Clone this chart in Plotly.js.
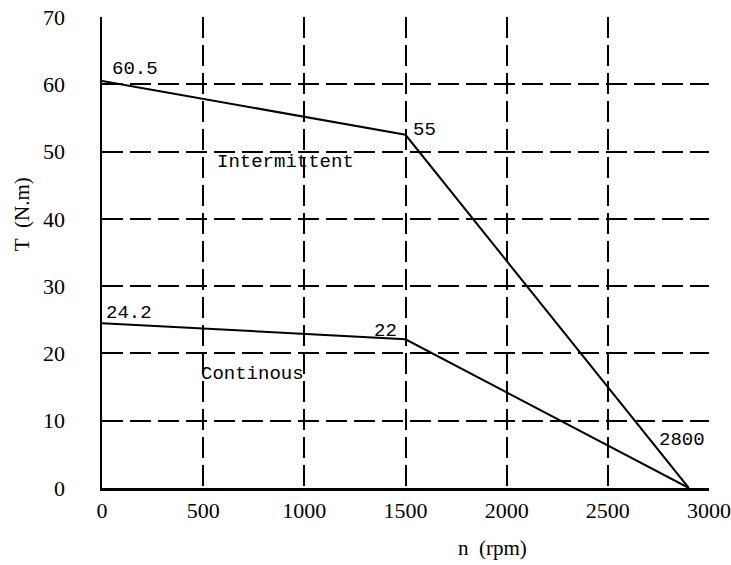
<!DOCTYPE html>
<html>
<head>
<meta charset="utf-8">
<script src="https://cdn.plot.ly/plotly-3.0.1.min.js"></script>
<style>html,body{margin:0;padding:0;background:#fff;}#chart{width:731px;height:565px;}</style>
</head>
<body>
<div id="chart"></div>
<script>
// Data
const speedRpm = [0, 1500, 2900];
const intermittentTorque = [60.5, 52.5, 0];
const continuousTorque = [24.5, 22.1, 0];
const xTicks = [0, 500, 1000, 1500, 2000, 2500, 3000];
const yTicks = [0, 10, 20, 30, 40, 50, 60, 70];
// Labels placed in data coordinates
const labelTexts = ["60.5", "55", "Intermittent", "24.2", "22", "Continous", "2800"];
const labelX = [44, 1532, 563, 15, 1463, 484, 2986];
const labelY = [62.3, 53.2, 48.4, 26.0, 23.3, 16.9, 7.1];
const labelAnchor = ["left", "left", "left", "left", "right", "left", "right"];
const xTitleText = "n\u00a0\u00a0(rpm)";
const yTitleText = "T\u00a0\u00a0(N.m)";

const serif = "Liberation Serif, DejaVu Serif, serif";
const mono = "Liberation Mono, DejaVu Sans Mono, monospace";

const lineStyle = {color: "#000", width: 2};
const traces = [
  {x: speedRpm, y: intermittentTorque, mode: "lines", line: lineStyle, showlegend: false, hoverinfo: "skip"},
  {x: speedRpm, y: continuousTorque, mode: "lines", line: lineStyle, showlegend: false, hoverinfo: "skip"}
];

const annotations = labelTexts.map((t, i) => ({
  text: t, x: labelX[i], y: labelY[i], xref: "x", yref: "y",
  xanchor: labelAnchor[i], yanchor: "middle", showarrow: false,
  font: {family: mono, size: 19, color: "#000"}, borderpad: 0
}));
annotations.push({
  text: xTitleText, xref: "paper", yref: "paper", x: 0.644, y: -0.127,
  xanchor: "center", yanchor: "middle", showarrow: false,
  font: {family: serif, size: 21, color: "#000"}
});
annotations.push({
  text: yTitleText, xref: "paper", yref: "paper", x: -0.132, y: 0.581,
  xanchor: "center", yanchor: "middle", showarrow: false, textangle: -90,
  font: {family: serif, size: 21, color: "#000"}
});

const gridDash = "21px,7px";
const layout = {
  width: 731, height: 565,
  margin: {l: 102, r: 22, t: 17, b: 77},
  paper_bgcolor: "#fff", plot_bgcolor: "#fff",
  font: {family: serif, color: "#000"},
  xaxis: {
    range: [0, 3000], tickvals: xTicks, ticktext: xTicks.map(String),
    showgrid: true, gridcolor: "#000", gridwidth: 2, griddash: gridDash,
    showline: true, linecolor: "#000", linewidth: 2.5, zeroline: false,
    ticks: "outside", ticklen: 0, ticklabelstandoff: 1,
    tickfont: {family: serif, size: 22, color: "#000"},
    fixedrange: true
  },
  yaxis: {
    range: [0, 70], tickvals: yTicks, ticktext: yTicks.map(String),
    showgrid: true, gridcolor: "#000", gridwidth: 2, griddash: gridDash,
    showline: true, linecolor: "#000", linewidth: 2.5, zeroline: false,
    ticks: "outside", ticklen: 0, ticklabelstandoff: 30,
    tickfont: {family: serif, size: 22, color: "#000"},
    fixedrange: true
  },
  annotations: annotations
};

Plotly.newPlot("chart", traces, layout, {displayModeBar: false, staticPlot: true});
</script>
</body>
</html>
